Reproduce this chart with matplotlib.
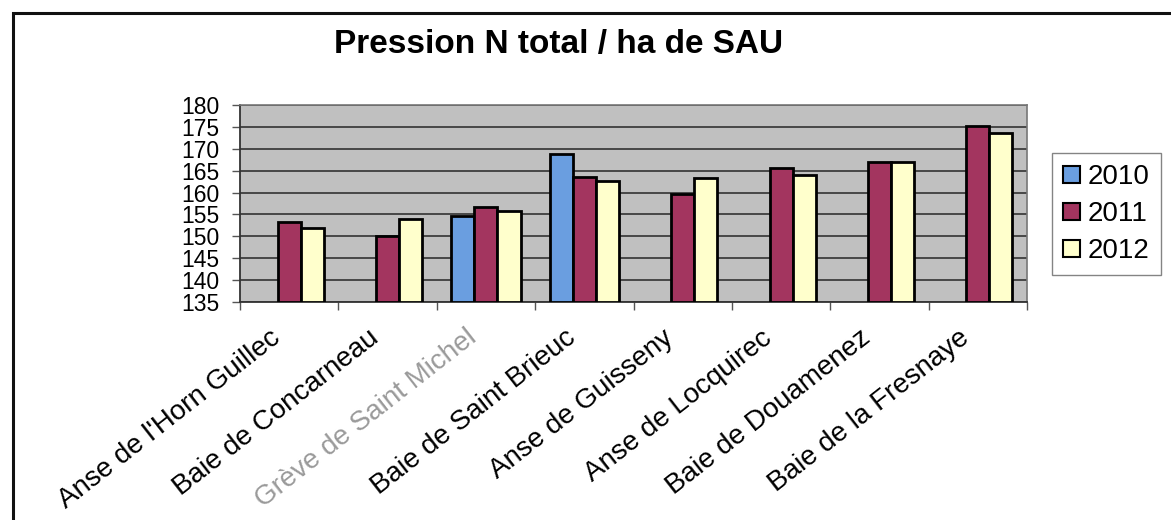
import matplotlib
matplotlib.use("Agg")
import matplotlib.pyplot as plt
import matplotlib.transforms as mtransforms
from matplotlib.patches import Rectangle, Patch
import numpy as np

categories = ["Anse de l'Horn Guillec", "Baie de Concarneau", "Grève de Saint Michel",
              "Baie de Saint Brieuc", "Anse de Guisseny", "Anse de Locquirec",
              "Baie de Douamenez", "Baie de la Fresnaye"]
series_names = ["2010", "2011", "2012"]
values_2010 = [np.nan, np.nan, 154.6, 168.7, np.nan, np.nan, np.nan, np.nan]
values_2011 = [153.2, 150.1, 156.8, 163.5, 159.6, 165.5, 167.0, 175.2]
values_2012 = [151.8, 153.9, 155.8, 162.6, 163.4, 164.0, 166.9, 173.7]
y_ticks = [135, 140, 145, 150, 155, 160, 165, 170, 175, 180]
title = "Pression N total / ha de SAU"

colors = ["#6a9ee0", "#a3355f", "#ffffcc"]

plt.rcParams['font.family'] = ['Liberation Sans', 'DejaVu Sans']

W, H = 1171, 520
fig = plt.figure(figsize=(W / 100, H / 100), dpi=100)
fig.patch.set_facecolor("white")

# chart border (extends beyond right/bottom)
fig.patches.append(Rectangle((13 / W, -0.05), 1.2, 1 - 13 / H + 0.05, transform=fig.transFigure,
                             fill=False, edgecolor="#111111", linewidth=2.2, zorder=0))

left, right, top, bottom = 240, 1027, 105, 302
ax = fig.add_axes([left / W, 1 - bottom / H, (right - left) / W, (bottom - top) / H])
ax.set_facecolor("#c0c0c0")

x = np.arange(len(categories))
bw = 0.235
for i, (vals, c, name) in enumerate(zip([values_2010, values_2011, values_2012], colors, series_names)):
    v = np.array(vals, dtype=float)
    heights = v - 135
    ax.bar(x + (i - 1) * bw, heights, bw, bottom=135, color=c, edgecolor="black",
           linewidth=2.0, label=name, zorder=3)

ax.set_ylim(135, 180)
ax.set_xlim(-0.5, len(categories) - 0.5)
ax.set_yticks(y_ticks)
ax.set_yticklabels([str(t) for t in y_ticks], fontsize=16.5)
ax.yaxis.grid(True, color="#333333", linewidth=1.2, zorder=1)
ax.set_axisbelow(True)
ax.tick_params(axis='y', length=6, width=1, color="#555555", pad=9)

ax.set_xticks(np.arange(len(categories) + 1) - 0.5)
ax.set_xticklabels([])
ax.tick_params(axis='x', length=6, width=1, color="#555555", direction='out')

for s in ["top", "right"]:
    ax.spines[s].set_color("#777777")
    ax.spines[s].set_linewidth(1.2)
for s in ["left", "bottom"]:
    ax.spines[s].set_color("#333333")
    ax.spines[s].set_linewidth(1.3)

offset = mtransforms.ScaledTranslation(-12 / 100, -33 / 100, fig.dpi_scale_trans)
for xi, lab in zip(x, categories):
    col = "#9a9a9a" if lab.startswith("Grève") else "black"
    ax.text(xi, 0, lab, transform=ax.get_xaxis_transform() + offset, rotation=38,
            ha='right', va='center', rotation_mode='anchor', fontsize=20, color=col)

fig.text(559 / W, 1 - 44 / H, title, ha='center', va='center', fontsize=24, fontweight='bold')

handles = [Patch(facecolor=c, edgecolor="black", linewidth=1.5) for c in colors]
leg = fig.legend(handles, series_names, loc='upper left', bbox_to_anchor=(1052 / W, 1 - 153 / H),
                 frameon=True, fontsize=20, handlelength=0.6, handleheight=0.6,
                 handletextpad=0.3, labelspacing=0.4, borderpad=0.4, fancybox=False,
                 borderaxespad=0)
leg.get_frame().set_edgecolor("#666666")
leg.get_frame().set_linewidth(1.0)

fig.savefig("out.png", dpi=100)
